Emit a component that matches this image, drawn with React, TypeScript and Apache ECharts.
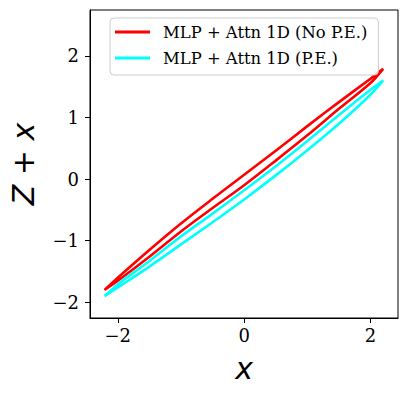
import React, { useEffect, useRef } from "react";
import * as echarts from "echarts";

const xs = [-2.21, -2.0, -1.5, -1.0, -0.5, 0, 0.5, 1.0, 1.5, 2.0, 2.2];
const redUpper = [-1.80, -1.60, -1.15, -0.72, -0.32, 0.07, 0.46, 0.86, 1.25, 1.63, 1.79];
const redLower = [-1.80, -1.65, -1.26, -0.85, -0.47, -0.10, 0.30, 0.71, 1.14, 1.56, 1.79];
const cyanUpper = [-1.90, -1.71, -1.33, -0.93, -0.56, -0.18, 0.21, 0.62, 1.04, 1.45, 1.60];
const cyanLower = [-1.90, -1.76, -1.42, -1.06, -0.70, -0.33, 0.06, 0.47, 0.90, 1.37, 1.60];
const seriesNames = ["MLP + Attn 1D (No P.E.)", "MLP + Attn 1D (P.E.)"];
const xTicks = [-2, 0, 2];
const yTicks = [-2, -1, 0, 1, 2];

function loop(upper: number[], lower: number[]) {
  const pts: number[][] = xs.map((x, i) => [x, upper[i]]);
  for (let i = xs.length - 1; i >= 0; i--) pts.push([xs[i], lower[i]]);
  return pts;
}

const fmt = (v: number) => (v < 0 ? "\u2212" + Math.abs(v) : String(v));

export default function App() {
  const ref = useRef<HTMLDivElement>(null);
  useEffect(() => {
    document.body.style.margin = "0";
    const chart = echarts.init(ref.current!, null, { renderer: "svg" });
    const tickFont = { fontFamily: "DejaVu Serif", fontSize: 18, color: "#000" };
    chart.setOption({
      animation: false,
      backgroundColor: "#fff",
      grid: {
        left: 88,
        top: 10,
        width: 310,
        height: 308,
        show: true,
        borderColor: "#000",
        borderWidth: 1,
        backgroundColor: "transparent",
      },
      legend: {
        orient: "vertical",
        left: 110,
        top: 18,
        padding: [6, 11, 9, 5],
        itemGap: 10,
        itemWidth: 35,
        itemHeight: 3,
        icon: "rect",
        borderColor: "#cccccc",
        borderWidth: 1,
        borderRadius: 4,
        backgroundColor: "rgba(255,255,255,0.8)",
        textStyle: { fontFamily: "DejaVu Serif", fontSize: 16.4, color: "#000", padding: [0, 0, 0, 8] },
        data: seriesNames,
      },
      xAxis: {
        type: "value",
        min: -2.44,
        max: 2.435,
        name: "x",
        nameLocation: "middle",
        nameGap: 35,
        nameTextStyle: { fontFamily: "DejaVu Sans", fontStyle: "italic", fontSize: 30, color: "#000" },
        axisLine: { show: true, onZero: false, lineStyle: { color: "#000", width: 1 } },
        axisTick: { show: true, length: 5, customValues: xTicks, lineStyle: { color: "#000" } },
        axisLabel: { ...tickFont, margin: 8, customValues: xTicks, formatter: fmt },
        splitLine: { show: false },
      },
      yAxis: {
        type: "value",
        min: -2.255,
        max: 2.745,
        name: "Z + x",
        nameLocation: "middle",
        nameRotate: 90,
        nameGap: 52,
        nameTextStyle: { fontFamily: "DejaVu Sans", fontStyle: "italic", fontSize: 30, color: "#000" },
        axisLine: { show: true, onZero: false, lineStyle: { color: "#000", width: 1 } },
        axisTick: { show: true, length: 5, customValues: yTicks, lineStyle: { color: "#000" } },
        axisLabel: { ...tickFont, margin: 11, customValues: yTicks, formatter: fmt },
        splitLine: { show: false },
      },
      series: [
        {
          name: seriesNames[0],
          type: "line",
          data: loop(redUpper, redLower),
          symbol: "none",
          smooth: 0.3,
          color: "#ff0000",
          lineStyle: { color: "#ff0000", width: 2.6 },
        },
        {
          name: seriesNames[1],
          type: "line",
          data: loop(cyanUpper, cyanLower),
          symbol: "none",
          smooth: 0.3,
          color: "#00ffff",
          lineStyle: { color: "#00ffff", width: 2.6 },
        },
      ],
    });
    return () => chart.dispose();
  }, []);
  return <div ref={ref} style={{ width: 408, height: 394 }} />;
}
